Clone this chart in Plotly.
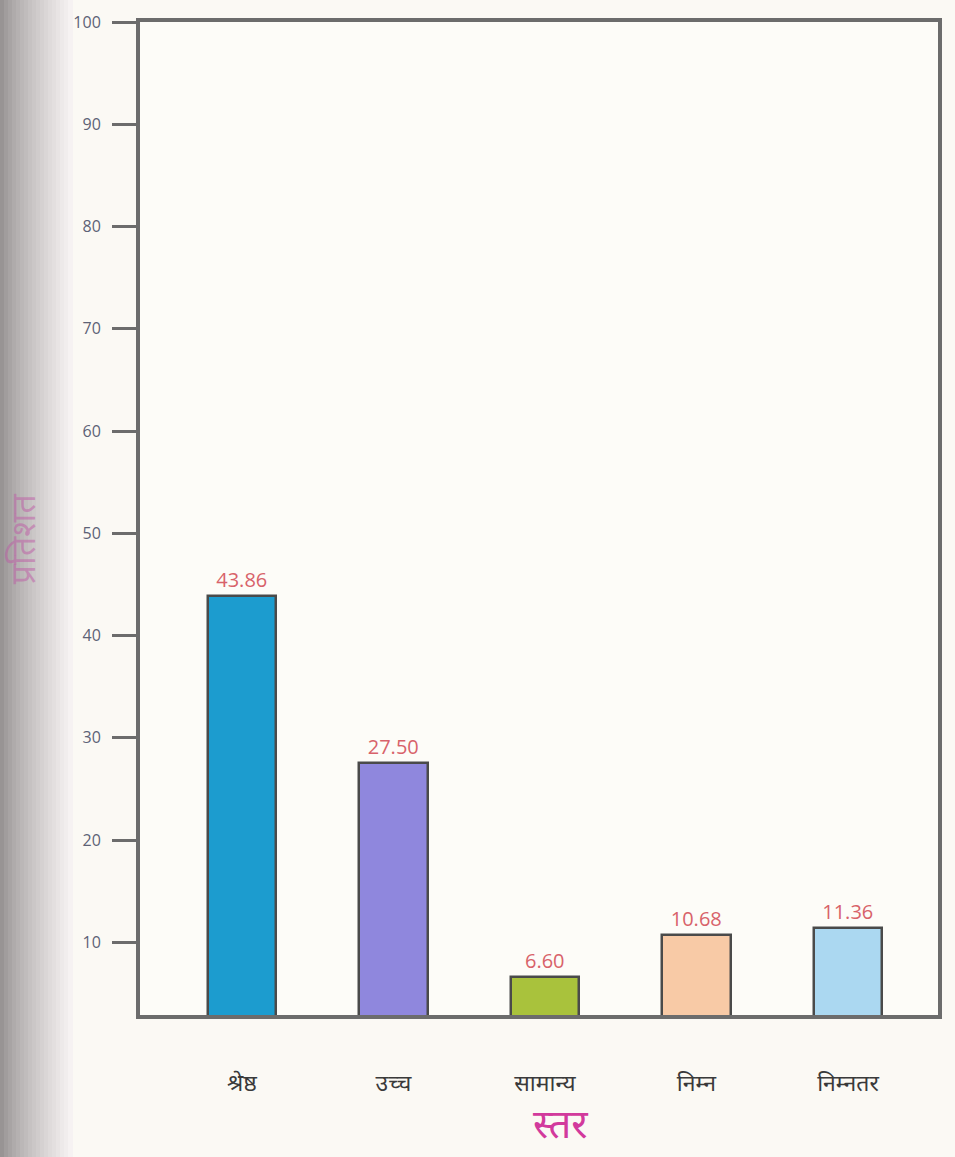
import plotly.graph_objects as go

# Levels and their percentage shares
levels = ["श्रेष्ठ", "उच्च", "सामान्य", "निम्न", "निम्नतर"]
percent = [43.86, 27.50, 6.60, 10.68, 11.36]
labels = ["43.86", "27.50", "6.60", "10.68", "11.36"]
y_ticks = [10, 20, 30, 40, 50, 60, 70, 80, 90, 100]

bar_colors = ["#1c9ccf", "#8f87dd", "#a9c23c", "#f8caa6", "#abd8f1"]
frame_color = "#6c6c6c"
paper_color = "#fbf9f4"
dev_font = "Noto Sans, Noto Sans Devanagari, sans-serif"

fig = go.Figure()

fig.add_trace(go.Bar(
    x=list(range(len(levels))),
    y=percent,
    width=0.45,
    marker=dict(color=bar_colors, line=dict(color="#4a4a4a", width=2.5)),
    text=labels,
    textposition="outside",
    textfont=dict(family="Open Sans, sans-serif", size=20, color="#d8626a"),
    cliponaxis=False,
    hoverinfo="skip",
))

# Shaded gutter strip along the left edge of the page
shapes = []
n_strips = 18
strip_px = 4.0
for i in range(n_strips):
    t = (i / (n_strips - 1)) ** 0.8
    g = int(152 + (246 - 152) * t)
    shapes.append(dict(
        type="rect", xref="paper", yref="paper",
        x0=(-140 + i * strip_px) / 798, x1=(-140 + (i + 1) * strip_px + 1) / 798,
        y0=-1, y1=2, layer="below", line=dict(width=0),
        fillcolor=f"rgb({g},{g - 4},{g - 4})",
    ))

fig.update_layout(
    width=955, height=1157,
    margin=dict(l=140, r=17, t=22, b=142),
    paper_bgcolor=paper_color,
    plot_bgcolor="#fdfcf8",
    showlegend=False,
    bargap=0,
    shapes=shapes,
    xaxis=dict(
        range=[-0.673, 4.594],
        tickvals=list(range(len(levels))),
        ticktext=levels,
        tickfont=dict(family=dev_font, size=23, color="#3a3a3a"),
        ticks="",
        ticklabelstandoff=44,
        showline=True, linecolor=frame_color, linewidth=4, mirror=True,
        showgrid=False, zeroline=False, fixedrange=True,
    ),
    yaxis=dict(
        range=[2.9, 100],
        tickvals=y_ticks,
        tickfont=dict(family="Open Sans, sans-serif", size=16, color="#5d6276"),
        ticks="outside", ticklen=24, tickwidth=3, tickcolor=frame_color,
        ticklabelstandoff=8,
        showline=True, linecolor=frame_color, linewidth=4, mirror=True,
        showgrid=False, zeroline=False, fixedrange=True,
    ),
    annotations=[
        dict(
            text="स्तर", xref="x", yref="paper", x=2.1, y=-0.108,
            showarrow=False, xanchor="center", yanchor="middle",
            font=dict(family=dev_font, size=40, color="#d23a9c"),
        ),
        dict(
            text="प्रतिशत", xref="paper", yref="paper", x=-0.148, y=0.48,
            showarrow=False, textangle=-90, xanchor="center", yanchor="middle",
            font=dict(family=dev_font, size=34, color="rgba(190,90,165,0.5)"),
        ),
    ],
)

fig.write_html("out.html")
